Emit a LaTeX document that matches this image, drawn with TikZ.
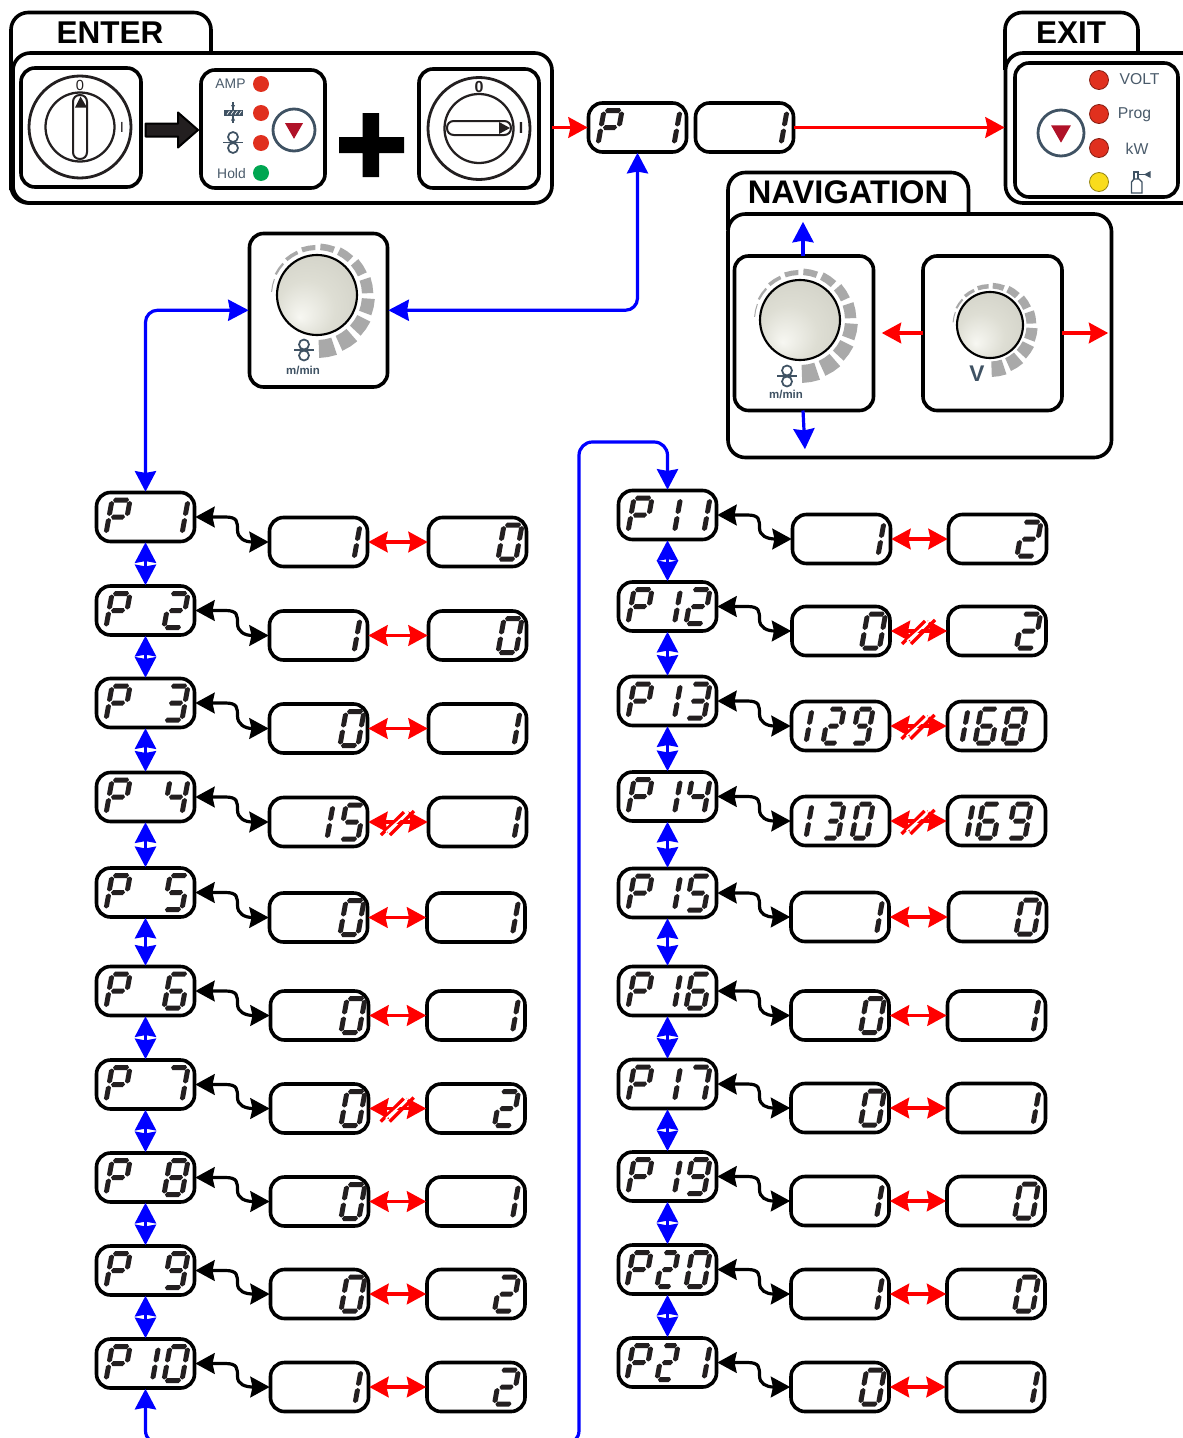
\documentclass[tikz,border=0pt]{standalone}
\usepackage{fontspec}
\setmainfont{Liberation Sans}
\usetikzlibrary{arrows.meta,calc}
\definecolor{slate}{HTML}{3F5263}
\definecolor{ledred}{HTML}{E0301E}
\definecolor{ledgreen}{HTML}{00A651}
\definecolor{ledyellow}{HTML}{F9DC1C}
\definecolor{btnred}{HTML}{B01228}
\definecolor{tickgray}{HTML}{A9A9A9}
\definecolor{segdark}{HTML}{231F20}
\definecolor{labelgray}{HTML}{4A5B6B}
\pgfdeclareradialshading{knobsh}{\pgfpoint{-11bp}{-14bp}}{rgb(0bp)=(0.97,0.97,0.95);rgb(18bp)=(0.87,0.87,0.83);rgb(32bp)=(0.83,0.83,0.79);rgb(50bp)=(0.83,0.83,0.79)}
% seven-segment outlines
\newcommand\Hs[3]{(#1,#3)--({#1+1.8},{#3-2.5})--({#2-1.8},{#3-2.5})--(#2,#3)--({#2-1.8},{#3+2.5})--({#1+1.8},{#3+2.5})--cycle}
\newcommand\Vs[3]{(#1,#2)--({#1+2.5},{#2+1.8})--({#1+2.5},{#3-1.8})--(#1,#3)--({#1-2.5},{#3-1.8})--({#1-2.5},{#2+1.8})--cycle}
\newcommand\sgA{\Hs{1}{\dW-1}{-17}}
\newcommand\sgG{\Hs{2}{\dW-2}{0}}
\newcommand\sgD{\Hs{1}{\dW-1}{17}}
\newcommand\sgF{\Vs{0}{-16}{-1}}
\newcommand\sgB{\Vs{\dW}{-16}{-1}}
\newcommand\sgE{\Vs{0}{1}{16}}
\newcommand\sgC{\Vs{\dW}{1}{16}}
\expandafter\def\csname dgP\endcsname{\sgA\sgB\sgE\sgF\sgG}
\expandafter\def\csname dg0\endcsname{\sgA\sgB\sgC\sgD\sgE\sgF}
\expandafter\def\csname dg1\endcsname{\sgB\sgC}
\expandafter\def\csname dg2\endcsname{\sgA\sgB\sgG\sgE\sgD}
\expandafter\def\csname dg3\endcsname{\sgA\sgB\sgG\sgC\sgD}
\expandafter\def\csname dg4\endcsname{\sgF\sgG\sgB\sgC}
\expandafter\def\csname dg5\endcsname{\sgA\sgF\sgG\sgC\sgD}
\expandafter\def\csname dg6\endcsname{\sgA\sgF\sgG\sgE\sgC\sgD}
\expandafter\def\csname dg7\endcsname{\sgA\sgB\sgC}
\expandafter\def\csname dg8\endcsname{\sgA\sgB\sgC\sgD\sgE\sgF\sgG}
\expandafter\def\csname dg9\endcsname{\sgA\sgB\sgC\sgD\sgF\sgG}
\tikzset{
  rbox/.style={draw=black,fill=white,line width=2.7pt,rounded corners=10.5pt,inner sep=0pt,outer sep=0pt},
  disp/.style={rbox,minimum width=73.5pt,minimum height=36.75pt,text opacity=0,font=\footnotesize},
  seg/.style={fill=segdark},
  bluetip/.tip={Stealth[length=15.4pt,width=15.8pt,inset=1.3pt]},
  redtip/.tip={Stealth[length=14.5pt,width=15.5pt,inset=1.6pt]},
  bluearr/.style={draw=blue,line width=2.4pt,bluetip-bluetip,shorten <=.6pt,shorten >=.6pt},
  blueone/.style={draw=blue,line width=2.4pt,-bluetip,shorten >=.6pt},
  redarr/.style={draw=red,line width=2.4pt,redtip-redtip,shorten <=.6pt,shorten >=.6pt},
  redone/.style={draw=red,line width=2.4pt,-redtip,shorten >=.6pt},
  blackarr/.style={draw=black,line width=2.4pt,redtip-redtip,shorten <=.6pt,shorten >=.6pt},
  tabtext/.style={font=\bfseries\fontsize{23.6pt}{26pt}\selectfont,inner sep=0pt},
  ledlabel/.style={text=labelgray,font=\fontsize{10.4pt}{12pt}\selectfont,inner sep=0pt},
  exitlabel/.style={text=labelgray,font=\fontsize{11.8pt}{14pt}\selectfont,inner sep=0pt},
  swlabel/.style={text=segdark,inner sep=0pt,font=\fontsize{11pt}{13pt}\selectfont},
  swlabelb/.style={text=segdark,inner sep=0pt,font=\bfseries\fontsize{12pt}{14pt}\selectfont},
  mmin/.style={text=slate,inner sep=0pt,font=\bfseries\fontsize{8.6pt}{10pt}\selectfont},
  tick/.style={fill=tickgray},
  icon/.style={draw=slate,line width=1.3pt},
}
\newcommand\Disp[5]{%
  \node[disp] (#1) at (#2,#3) {#4};
  \foreach \ox/\dW/\ch in {#5}{%
    \expandafter\let\expandafter\dgcur\csname dg\ch\endcsname
    \fill[seg,shift={({#2-50.5+\ox},#3)},xslant=0.18] \dgcur;
  }%
}
\newcommand\Rect[5]{%
  \node[rbox,minimum width={(#4-#2)*0.75pt},minimum height={(#5-#3)*0.75pt}] (#1) at ({(#2+#4)/2},{(#3+#5)/2}) {};}
\newcommand\Panel[5]{%
  \node[rbox,rounded corners=13pt,minimum width={(#4-#2)*0.75pt},minimum height={(#5-#3)*0.75pt}] (#1) at ({(#2+#4)/2},{(#3+#5)/2}) {};}
\newcommand\Conn[2]{%
  \draw[blackarr] (#1.east) -- ++(31,0) .. controls +(12,0) and +(0,-8) .. ++(12,13) .. controls +(0,8) and +(-8,0) .. ($(#2.west)+(-17,0)$) -- (#2.west);}
\newcommand\Cross[2]{%
  \draw[redarr] (#1.east) -- (#2.west);
  \coordinate (xm) at ($(#1.east)!0.5!(#2.west)$);
  \draw[red,line width=2.5pt] ($(xm)+(-17,13)$) -- ($(xm)+(6,-10)$);
  \draw[red,line width=2.5pt] ($(xm)+(-8,13)$) -- ($(xm)+(16,-11)$);
  \draw[white,line width=1.1pt] ($(xm)+(-12,10)$) -- ($(xm)+(10.5,-10)$);}
\newcommand\Knob[6]{% x y R rin rout0 rout1
  \begin{scope}[shift={(#1,#2)}]
    \foreach \i in {0,...,11}{
      \pgfmathsetmacro\aA{88-22.5*\i}
      \pgfmathsetmacro\aB{\aA-16.5}
      \pgfmathsetmacro\aM{\aA-8.25}
      \pgfmathsetmacro\rO{#6+(#5-#6)*(1-\i/11)^1.1}
      \fill[tick] (\aA:#4)--(\aM:#4)--(\aB:#4)--(\aB:\rO)--(\aM:\rO)--(\aA:\rO)--cycle;
    }
    \shade[shading=knobsh,draw=black,line width=1.6pt] (0,0) circle[radius=#3];
  \end{scope}}
\newcommand\Roll[2]{%
  \draw[icon] (#1,{#2-5.5}) circle[radius=5];
  \draw[icon] (#1,{#2+5.5}) circle[radius=5];
  \draw[icon] ({#1-10},#2) -- ({#1+10},#2);}
\newcommand\Btn[3]{%
  \draw[slate,line width=2.1pt] (#1,#2) circle[radius=#3];
  \fill[btnred] ({#1-#3*0.43},{#2-#3*0.33}) -- ({#1+#3*0.43},{#2-#3*0.33}) -- (#1,{#2+#3*0.42}) -- cycle;}
\newcommand\Led[3]{\draw[fill=#3,draw=#3!60!black,line width=.6pt] (#1,#2) circle[radius=9.5];}
\begin{document}
\begin{tikzpicture}[x=0.75pt,y=-0.75pt]
\useasboundingbox (0,0) rectangle (1182,1438);
% ENTER
\draw[line width=2.7pt,rounded corners=13pt] (11,190) -- (11,12.5) -- (211,12.5) -- (211,53);
\node[tabtext] (entertext) at (110,33) {ENTER};
\Panel{enter}{13}{53}{552}{203}
\draw[line width=2.7pt,rounded corners=13pt] (11,180) -- (11,203) -- (30,203);
\Rect{sw1}{21}{68}{141}{187}
\Rect{sw2}{201}{70}{325}{188}
\Rect{sw3}{419}{69}{539}{188}
\draw[segdark,line width=2.1pt] (80,127) circle[radius=51];
\draw[segdark,line width=1.7pt] (80,127) circle[radius=34.5];
\draw[segdark,fill=white,line width=1.5pt,rounded corners=5pt] (73,95) rectangle (87,159);
\fill[segdark] (80.5,96.5) -- (87,107.5) -- (75,107.5) -- cycle;
\node[swlabel] (sw1zero) at (80,85) {0};
\node[swlabel] (sw1one) at (122,127) {I};
\draw[segdark,line width=2.1pt] (479,128.5) circle[radius=51];
\draw[segdark,line width=1.7pt] (479,128.5) circle[radius=34.5];
\draw[segdark,fill=white,line width=1.5pt,rounded corners=5pt] (447,121) rectangle (511,135);
\fill[segdark] (510,128) -- (499,122) -- (499,134) -- cycle;
\node[swlabelb] (sw3zero) at (479,87) {0};
\node[swlabelb] (sw3one) at (521,128) {I};
\draw[black,fill=segdark,line width=1.5pt,line join=round] (145.5,123.5) -- (178,123.5) -- (178,112.5) -- (198,130) -- (178,147.5) -- (178,136.5) -- (145.5,136.5) -- cycle;
\fill[black] (339,137) -- (362.5,137) -- (362.5,113) -- (379,113) -- (379,137) -- (404,137) -- (404,153) -- (379,153) -- (379,177) -- (362.5,177) -- (362.5,153) -- (339,153) -- cycle;
\node[ledlabel] (amp) at (230.5,83.5) {AMP};
\node[ledlabel] (hold) at (231.5,173.5) {Hold};
\fill[ledred] (261,84) circle[radius=8];
\fill[ledred] (261,113) circle[radius=8];
\fill[ledred] (261,143) circle[radius=8];
\fill[ledgreen] (261,173) circle[radius=8];
\fill[slate] (224,110) rectangle (242.5,115.5);
\foreach \hx in {227,231,235,239}{\draw[white,line width=.5pt] (\hx,114.5) -- ({\hx+2.5},111);}
\draw[slate,line width=.8pt] (233,102) -- (233,110);
\draw[slate,line width=.8pt] (233,115) -- (233,123);
\fill[slate] (233,109) -- (231,105) -- (235,105) -- cycle;
\fill[slate] (233,116.5) -- (231,120.5) -- (235,120.5) -- cycle;
\Roll{233}{142.5}
\Btn{294}{130}{21}
% EXIT
\draw[line width=2.7pt,rounded corners=13pt] (1005,70) -- (1005,12.5) -- (1138,12.5) -- (1138,53);
\node[tabtext] (exittext) at (1071,33) {EXIT};
\Panel{exit}{1005.5}{53}{1200}{203}
\Rect{exitin}{1015}{63}{1178}{197}
\Btn{1061}{133}{23}
\Led{1099}{80}{ledred}
\Led{1099}{114}{ledred}
\Led{1099}{148}{ledred}
\Led{1099}{182}{ledyellow}
\node[exitlabel] (volt) at (1139.5,79.5) {VOLT};
\node[exitlabel] (prog) at (1134.5,114.5) {Prog};
\node[exitlabel] (kw) at (1137,148.5) {kW};
\draw[icon,line width=1pt] (1131.5,193) -- (1131.5,182) -- (1134,179) -- (1139,179) -- (1142,182) -- (1142,193) -- cycle;
\draw[icon,line width=1pt] (1134,179) -- (1134,172) -- (1138,172) -- (1138,179);
\draw[icon,line width=1pt] (1138,174.5) -- (1150,174.5);
\fill[slate] (1144,174.5) -- (1150.5,171) -- (1150.5,178) -- cycle;
% top displays
\Disp{ptop}{637.5}{127.5}{P 1}{14/18/P,72/18/1}
\Disp{vtop}{744.5}{127.5}{1}{72/18/1}
% NAVIGATION
\draw[line width=2.7pt,rounded corners=13pt] (728,230) -- (728,172.5) -- (968.5,172.5) -- (968.5,214);
\node[tabtext,font=\bfseries\fontsize{24.5pt}{26pt}\selectfont] (navtext) at (848,192.5) {NAVIGATION};
\Panel{nav}{728}{214}{1111.5}{457.5}
\Rect{navL}{734.5}{256}{873.5}{410.5}
\Rect{navR}{923}{256}{1062}{410.5}
\Knob{800}{320}{40}{45}{63}{46}
\Roll{787}{376}
\node[mmin] (mminN) at (786,394.5) {m/min};
\Knob{990}{325}{33}{36.5}{52}{37.5}
\node[text=slate,inner sep=0pt,font=\bfseries\fontsize{17pt}{18pt}\selectfont] (vN) at (977,373.5) {V};
\coordinate (nUp) at (803,221);
\coordinate (nDn) at (805,450);
\coordinate (nLt) at (881,333);
\coordinate (nRt) at (1109,333);
\draw[blueone] (navL.north -| nUp) -- (nUp);
\draw[blueone] (navL.south -| nUp) -- (nDn);
\draw[redone] (navR.west |- nLt) -- (nLt);
\draw[redone] (navR.east |- nRt) -- (nRt);
% Centre knob
\Rect{knobbox}{249.5}{233.5}{387.5}{387}
\Knob{317}{295}{40}{45}{63}{46}
\Roll{304}{350}
\node[mmin] (mminC) at (303,370) {m/min};
% Left column
\Disp{p1}{145.5}{517}{P 1}{14/18/P,72/18/1}
\Disp{p2}{145.5}{610.5}{P 2}{14/18/P,72/18/2}
\Disp{p3}{145.5}{703}{P 3}{14/18/P,72/18/3}
\Disp{p4}{145.5}{797}{P 4}{14/18/P,72/18/4}
\Disp{p5}{145.5}{892.5}{P 5}{14/18/P,72/18/5}
\Disp{p6}{145.5}{991}{P 6}{14/18/P,72/18/6}
\Disp{p7}{145.5}{1084.5}{P 7}{14/18/P,72/18/7}
\Disp{p8}{145.5}{1177.5}{P 8}{14/18/P,72/18/8}
\Disp{p9}{145.5}{1270.5}{P 9}{14/18/P,72/18/9}
\Disp{p10}{145.5}{1363.5}{P 10}{14/18/P,42.5/18/1,72/18/0}
\Disp{a1}{318.5}{542}{1}{71/18/1}
\Disp{a2}{318.5}{635.5}{1}{71/18/1}
\Disp{a3}{318.5}{728.5}{0}{75/18/0}
\Disp{a4}{318.5}{822}{15}{44/18/1,75/18/5}
\Disp{a5}{318.5}{917.5}{0}{75/18/0}
\Disp{a6}{319.5}{1015.5}{0}{75/18/0}
\Disp{a7}{319.5}{1108.5}{0}{75/18/0}
\Disp{a8}{319.5}{1201.5}{0}{75/18/0}
\Disp{a9}{319.5}{1294}{0}{75/18/0}
\Disp{a10}{319.5}{1387}{1}{71/18/1}
\Disp{b1}{477.5}{542}{0}{74/18/0}
\Disp{b2}{477.5}{635.5}{0}{74/18/0}
\Disp{b3}{477.5}{728.5}{1}{72/18/1}
\Disp{b4}{477.5}{822}{1}{72/18/1}
\Disp{b5}{476}{917.5}{1}{72/18/1}
\Disp{b6}{476}{1015.5}{1}{72/18/1}
\Disp{b7}{476}{1108.5}{2}{72/18/2}
\Disp{b8}{476}{1201.5}{1}{72/18/1}
\Disp{b9}{476}{1294}{2}{72/18/2}
\Disp{b10}{476}{1387}{2}{72/18/2}
% Right column
\Disp{p11}{667.5}{515}{P 11}{14/18/P,42.5/18/1,72/18/1}
\Disp{p12}{667.5}{606.5}{P 12}{14/18/P,42.5/18/1,72/18/2}
\Disp{p13}{667.5}{701}{P 13}{14/18/P,42.5/18/1,72/18/3}
\Disp{p14}{667.5}{796.5}{P 14}{14/18/P,42.5/18/1,72/18/4}
\Disp{p15}{667.5}{893}{P 15}{14/18/P,42.5/18/1,72/18/5}
\Disp{p16}{667.5}{991}{P 16}{14/18/P,42.5/18/1,72/18/6}
\Disp{p17}{667.5}{1084}{P 17}{14/18/P,42.5/18/1,72/18/7}
\Disp{p19}{667.5}{1176.5}{P 19}{14/18/P,42.5/18/1,72/18/9}
\Disp{p20}{667.5}{1269.5}{P20}{13/18/P,43/15/2,72/18/0}
\Disp{p21}{667.5}{1362.5}{P2 1}{13/18/P,43/15/2,72/18/1}
\Disp{c11}{841.5}{539}{1}{72/18/1}
\Disp{c12}{841}{631}{0}{74/18/0}
\Disp{c13}{840.5}{726}{129}{4/15/1,36/15/2,65/15/9}
\Disp{c14}{840.5}{821}{130}{4/15/1,36/15/3,65/15/0}
\Disp{c15}{840}{917}{1}{72/18/1}
\Disp{c16}{840}{1015.5}{0}{74/18/0}
\Disp{c17}{840}{1108}{0}{74/18/0}
\Disp{c19}{840}{1201}{1}{72/18/1}
\Disp{c20}{840}{1294}{1}{72/18/1}
\Disp{c21}{840}{1387}{0}{74/18/0}
\Disp{d11}{997.5}{539}{2}{73/18/2}
\Disp{d12}{997}{631}{2}{73/18/2}
\Disp{d13}{996.5}{726}{168}{2/17/1,32/17/6,60/17/8}
\Disp{d14}{996.5}{821}{169}{7/17/1,34/17/6,65/17/9}
\Disp{d15}{997.5}{917}{0}{72/18/0}
\Disp{d16}{996.5}{1015.5}{1}{72/18/1}
\Disp{d17}{996.5}{1108}{1}{72/18/1}
\Disp{d19}{996}{1201}{0}{72/18/0}
\Disp{d20}{996}{1294}{0}{72/18/0}
\Disp{d21}{995.5}{1387}{1}{72/18/1}
% top connectors
\draw[redone] (enter.east |- ptop.west) -- (ptop.west);
\draw[redone] (vtop.east) -- (exit.west |- vtop.east);
\draw[bluearr,rounded corners=9pt] (ptop.south) |- (knobbox.east);
\draw[bluearr,rounded corners=9pt] (knobbox.west) -| (p1.north);
% blue chains
\foreach \u/\v in {p1/p2,p2/p3,p3/p4,p4/p5,p5/p6,p6/p7,p7/p8,p8/p9,p9/p10,p11/p12,p12/p13,p13/p14,p14/p15,p15/p16,p16/p17,p17/p19,p19/p20,p20/p21}{
  \draw[bluearr] (\u.south) -- (\v.north);
}
\coordinate (loopa) at (145.5,1444);
\coordinate (loopb) at (579,1444);
\coordinate (loopc) at (579,442);
\coordinate (loopd) at (667.5,442);
\draw[bluearr,rounded corners=10pt] (p10.south) -- (loopa) -- (loopb) -- (loopc) -- (loopd) -- (p11.north);
% parameter to value
\foreach \u/\v in {p1/a1,p2/a2,p3/a3,p4/a4,p5/a5,p6/a6,p7/a7,p8/a8,p9/a9,p10/a10,p11/c11,p12/c12,p13/c13,p14/c14,p15/c15,p16/c16,p17/c17,p19/c19,p20/c20,p21/c21}{
  \Conn{\u}{\v}
}
% red arrows
\foreach \u/\v in {a1/b1,a2/b2,a3/b3,a5/b5,a6/b6,a8/b8,a9/b9,a10/b10,c11/d11,c15/d15,c16/d16,c17/d17,c19/d19,c20/d20,c21/d21}{
  \draw[redarr] (\u.east) -- (\v.west);
}
\foreach \u/\v in {a4/b4,a7/b7,c12/d12,c13/d13,c14/d14}{
  \Cross{\u}{\v}
}
\end{tikzpicture}
\end{document}
